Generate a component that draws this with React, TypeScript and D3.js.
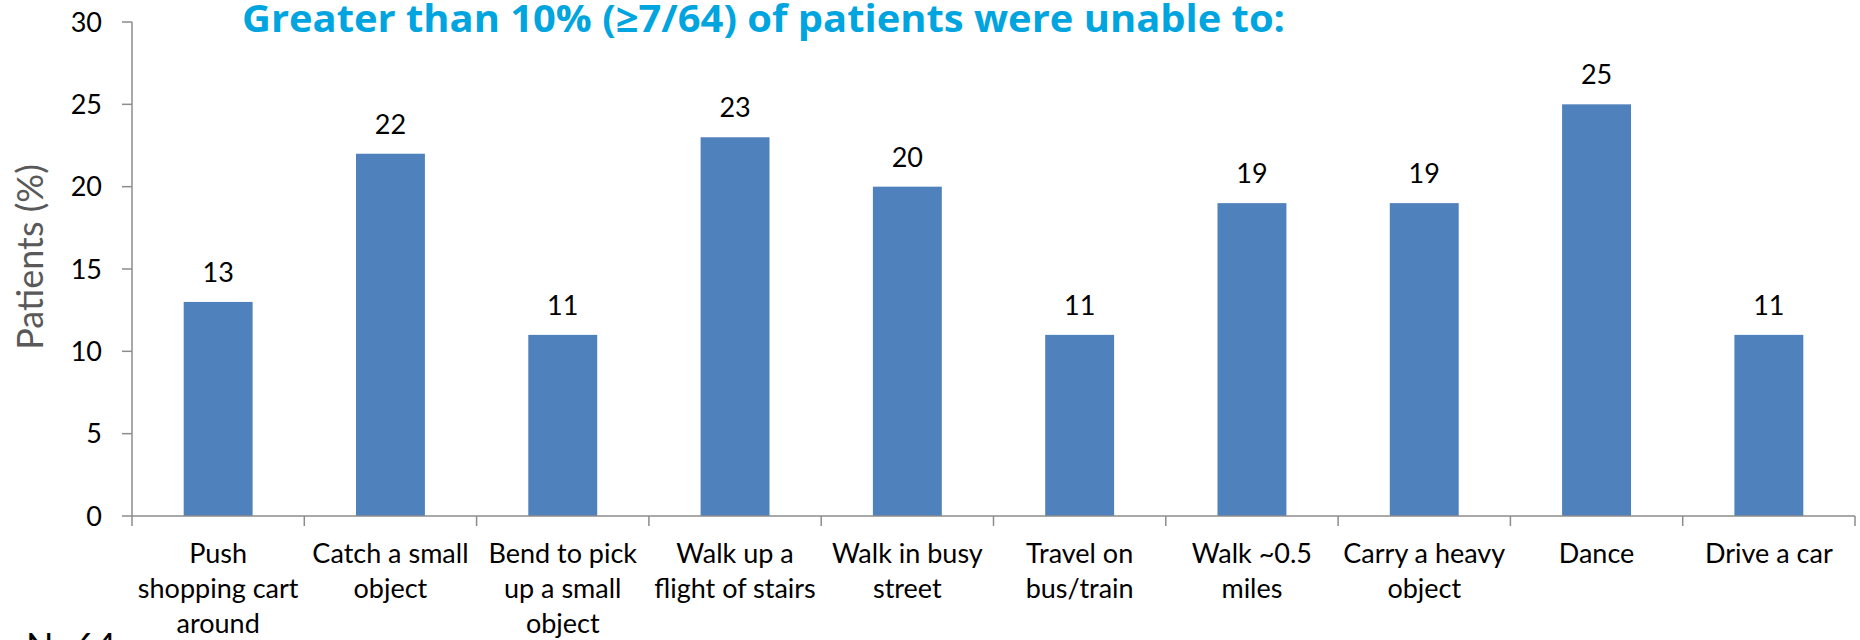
import React from "react";
import * as d3 from "d3";

const categories: string[][] = [
  ["Push", "shopping cart", "around"],
  ["Catch a small", "object"],
  ["Bend to pick", "up a small", "object"],
  ["Walk up a", "flight of stairs"],
  ["Walk in busy", "street"],
  ["Travel on", "bus/train"],
  ["Walk ~0.5", "miles"],
  ["Carry a heavy", "object"],
  ["Dance"],
  ["Drive a car"],
];
const values: number[] = [13, 22, 11, 23, 20, 11, 19, 19, 25, 11];
const yTicks: number[] = [0, 5, 10, 15, 20, 25, 30];
const title = "Greater than 10% (\u22657/64) of patients were unable to:";
const yLabel = "Patients (%)";
const note = "N=64";

const W = 1860;
const H = 640;
const left = 132;
const right = 1855;
const top = 22;
const bottom = 516;
const font = "Lato, 'Open Sans', sans-serif";
const axisColor = "#8c8c8c";
const barColor = "#4f81bd";

export default function App() {
  const x = d3
    .scaleBand<number>()
    .domain(d3.range(categories.length))
    .range([left, right])
    .paddingInner(0.6)
    .paddingOuter(0.3);
  const step = (right - left) / categories.length;
  const y = d3.scaleLinear().domain([0, 30]).range([bottom, top]);

  return (
    <svg
      width={W}
      height={H}
      style={{ position: "absolute", left: 0, top: 0, background: "#fff" }}
      fontFamily={font}
    >
      <rect x={0} y={0} width={W} height={H} fill="#fff" />
      {values.map((v, i) => (
        <rect
          key={"b" + i}
          x={x(i)}
          y={y(v)}
          width={x.bandwidth()}
          height={y(0) - y(v)}
          fill={barColor}
        />
      ))}
      {values.map((v, i) => (
        <text
          key={"v" + i}
          x={(x(i) as number) + x.bandwidth() / 2}
          y={y(v) - 20}
          textAnchor="middle"
          fontSize={27}
          fill="#000"
        >
          {v}
        </text>
      ))}
      <line x1={left} x2={left} y1={y(30)} y2={y(0)} stroke={axisColor} strokeWidth={1.5} />
      {yTicks.map((t) => (
        <g key={"yt" + t}>
          <line x1={left - 10} x2={left} y1={y(t)} y2={y(t)} stroke={axisColor} strokeWidth={1.5} />
          <text x={102} y={y(t)} dy="0.36em" textAnchor="end" fontSize={27} fill="#000">
            {t}
          </text>
        </g>
      ))}
      <line x1={left} x2={right} y1={y(0)} y2={y(0)} stroke={axisColor} strokeWidth={1.5} />
      {d3.range(categories.length + 1).map((i) => (
        <line
          key={"xt" + i}
          x1={left + i * step}
          x2={left + i * step}
          y1={y(0)}
          y2={y(0) + 10}
          stroke={axisColor}
          strokeWidth={1.5}
        />
      ))}
      {categories.map((lines, i) => (
        <text
          key={"c" + i}
          x={(x(i) as number) + x.bandwidth() / 2}
          y={563}
          textAnchor="middle"
          fontSize={27}
          fill="#000"
        >
          {lines.map((l, j) => (
            <tspan key={j} x={(x(i) as number) + x.bandwidth() / 2} dy={j === 0 ? 0 : 35}>
              {l}
            </tspan>
          ))}
        </text>
      ))}
      <text
        transform={`translate(43, 257) rotate(-90)`}
        textAnchor="middle"
        fontSize={36}
        fill="#595959"
      >
        {yLabel}
      </text>
      <text
        x={242}
        y={32}
        fontSize={38}
        fontWeight="bold"
        fill="#00a5e0"
        fontFamily="'Open Sans', Lato, sans-serif"
        textLength={1043}
        lengthAdjust="spacingAndGlyphs"
      >
        {title}
      </text>
      <text x={26} y={659} fontSize={36} fill="#000">
        {note}
      </text>
    </svg>
  );
}
